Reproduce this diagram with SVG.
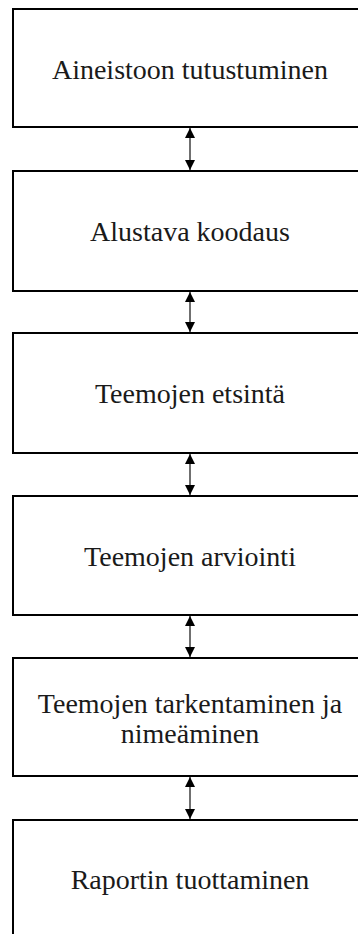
<svg xmlns="http://www.w3.org/2000/svg" width="358" height="934" viewBox="0 0 358 934">
<defs>
<style>
.box{fill:#fff;stroke:#000;stroke-width:2}
.lbl{font-family:"Liberation Serif","Times New Roman",serif;font-size:28px;fill:#1a1a1a;text-anchor:middle}
.con{stroke:#222;stroke-width:1.3;fill:none;marker-start:url(#ah);marker-end:url(#ah)}
</style>
<marker id="ah" viewBox="0 0 10 10" refX="10" refY="5" markerWidth="10" markerHeight="11" markerUnits="userSpaceOnUse" orient="auto-start-reverse">
<path d="M0,0 L10,5 L0,10 Z" fill="#000"/>
</marker>
</defs>
<rect width="358" height="934" fill="#fff"/>
<g id="n1"><rect class="box" x="13" y="9" width="360" height="118"/><text class="lbl" x="190" y="79">Aineistoon tutustuminen</text></g>
<g id="n2"><rect class="box" x="13" y="171" width="360" height="120"/><text class="lbl" x="190" y="241">Alustava koodaus</text></g>
<g id="n3"><rect class="box" x="13" y="333" width="360" height="120"/><text class="lbl" x="190" y="403">Teemojen etsintä</text></g>
<g id="n4"><rect class="box" x="13" y="496" width="360" height="119"/><text class="lbl" x="190" y="566">Teemojen arviointi</text></g>
<g id="n5"><rect class="box" x="13" y="658" width="360" height="118"/><text class="lbl" x="190" y="713">Teemojen tarkentaminen ja</text><text class="lbl" x="190" y="743">nimeäminen</text></g>
<g id="n6"><rect class="box" x="13" y="820" width="360" height="130"/><text class="lbl" x="190" y="889">Raportin tuottaminen</text></g>
<g id="connectors">
<line class="con" x1="190" y1="128" x2="190" y2="170"/>
<line class="con" x1="190" y1="292" x2="190" y2="332"/>
<line class="con" x1="190" y1="454" x2="190" y2="495"/>
<line class="con" x1="190" y1="616" x2="190" y2="657"/>
<line class="con" x1="190" y1="777" x2="190" y2="819"/>
</g>
</svg>
